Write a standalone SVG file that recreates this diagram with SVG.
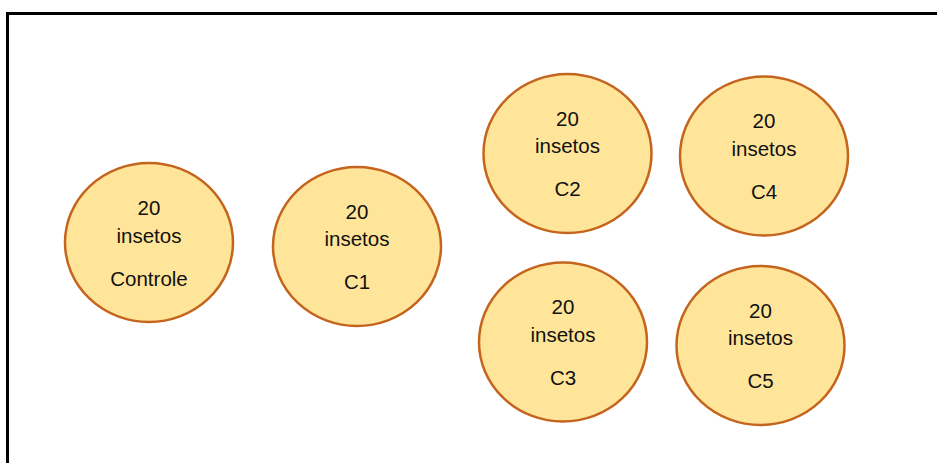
<svg xmlns="http://www.w3.org/2000/svg" width="937" height="463" viewBox="0 0 937 463">
  <style>
    .group { fill: #FFE599; stroke: #C4641D; stroke-width: 2.5; }
    .label { font-family: "Liberation Sans", Arial, sans-serif; font-size: 20.5px; fill: #111111; text-anchor: middle; }
  </style>
  <rect x="0" y="0" width="937" height="463" fill="#ffffff"/>
  <!-- outer frame, open past the right and bottom edges -->
  <rect x="7.5" y="13.5" width="950" height="470" fill="none" stroke="#000000" stroke-width="3"/>

  <g id="controle">
    <ellipse class="group" cx="149" cy="242.5" rx="84" ry="79.5"/>
    <text class="label" x="149" y="215">20</text>
    <text class="label" x="149" y="242.5">insetos</text>
    <text class="label" x="149" y="285.5">Controle</text>
  </g>
  <g id="c1">
    <ellipse class="group" cx="357" cy="246.5" rx="84" ry="79.5"/>
    <text class="label" x="357" y="218.5">20</text>
    <text class="label" x="357" y="246">insetos</text>
    <text class="label" x="357" y="289">C1</text>
  </g>
  <g id="c2">
    <ellipse class="group" cx="567.5" cy="153.5" rx="84" ry="79.5"/>
    <text class="label" x="567.5" y="125.5">20</text>
    <text class="label" x="567.5" y="153">insetos</text>
    <text class="label" x="567.5" y="196">C2</text>
  </g>
  <g id="c4">
    <ellipse class="group" cx="764" cy="156" rx="84" ry="79.5"/>
    <text class="label" x="764" y="128">20</text>
    <text class="label" x="764" y="155.5">insetos</text>
    <text class="label" x="764" y="198.5">C4</text>
  </g>
  <g id="c3">
    <ellipse class="group" cx="563" cy="342" rx="84" ry="79.5"/>
    <text class="label" x="563" y="314">20</text>
    <text class="label" x="563" y="341.5">insetos</text>
    <text class="label" x="563" y="384.5">C3</text>
  </g>
  <g id="c5">
    <ellipse class="group" cx="760.5" cy="345.5" rx="84" ry="79.5"/>
    <text class="label" x="760.5" y="317.5">20</text>
    <text class="label" x="760.5" y="345">insetos</text>
    <text class="label" x="760.5" y="388">C5</text>
  </g>
  <g id="connectors"/>
</svg>
